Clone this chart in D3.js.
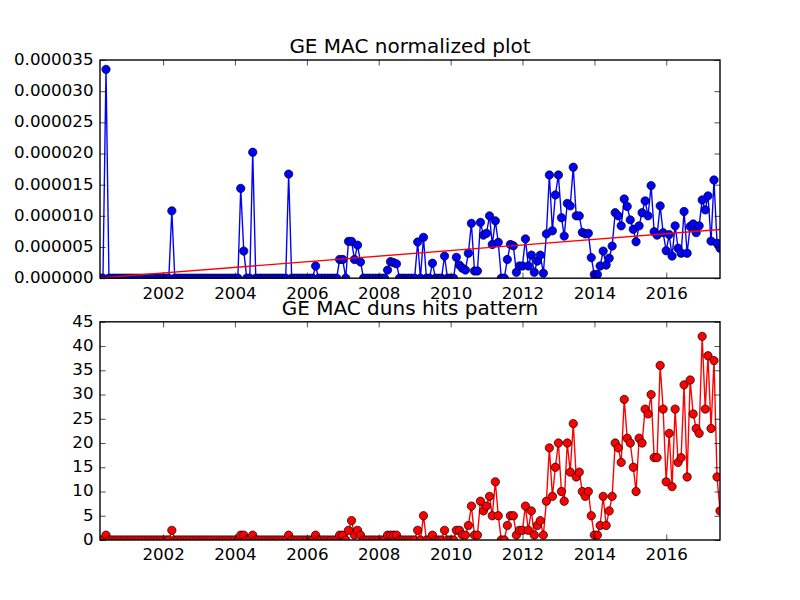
<!DOCTYPE html>
<html><head><meta charset="utf-8">
<script src="https://cdn.jsdelivr.net/npm/d3@7"></script>
<style>body{margin:0;background:#fff} svg{display:block}</style>
</head><body>
<svg id="c" width="800" height="600"></svg>
<script>
// Monthly samples (month-end), first month: March 2000
const firstYear = 2000, firstMonthIndex = 2; // 0-based month (March)

// Bottom chart: duns hits per month (208 months)
const hits = [
  0,0,1,0,0,0,0,0,0,0,
  0,0,0,0,0,0,0,0,0,0,
  0,0,0,0,2,0,0,0,0,0,
  0,0,0,0,0,0,0,0,0,0,
  0,0,0,0,0,0,0,1,1,0,
  0,1,0,0,0,0,0,0,0,0,
  0,0,0,1,0,0,0,0,0,0,
  0,0,1,0,0,0,0,0,0,0,
  1,1,0,2,4,1,2,1,0,0,
  0,0,0,0,0,0,1,1,1,1,
  0,0,0,0,0,0,2,0,5,0,
  0,1,0,0,0,2,0,0,0,2,
  2,1,1,3,7,1,1,8,6,7,
  9,5,12,5,0,0,3,5,5,1,
  2,2,7,2,6,1,3,4,1,8,
  19,9,15,20,10,8,20,14,24,13,
  14,10,9,10,5,1,1,3,9,3,
  6,9,20,19,16,29,21,20,15,10,
  21,20,27,26,30,17,17,36,27,12,
  22,11,27,16,17,32,13,33,26,23,
  22,42,27,38,23,37,13,6
];

// Top chart: normalized values per month
const normalized = [
  0,0,33.5e-6,0,0,0,0,0,0,0,
  0,0,0,0,0,0,0,0,0,0,
  0,0,0,0,10.8e-6,0,0,0,0,0,
  0,0,0,0,0,0,0,0,0,0,
  0,0,0,0,0,0,0,14.4e-6,4.35e-6,0,
  0,20.2e-6,0,0,0,0,0,0,0,0,
  0,0,0,16.7e-6,0,0,0,0,0,0,
  0,0,1.95e-6,0,0,0,0,0,0,0,
  3.0e-6,3.0e-6,0,5.9e-6,5.9e-6,3.0e-6,5.3e-6,2.6e-6,0,0,
  0,0,0,0,0,0,1.3e-6,2.65e-6,2.5e-6,2.3e-6,
  0,0,0,0,0,0,5.8e-6,0,6.55e-6,0,
  0,2.4e-6,0,0,0,3.55e-6,0,0,0,3.35e-6,
  2.1e-6,1.6e-6,1.3e-6,4.0e-6,8.8e-6,1.15e-6,1.15e-6,8.95e-6,6.9e-6,7.2e-6,
  10.0e-6,5.4e-6,9.2e-6,5.75e-6,0,0,3.0e-6,5.4e-6,5.2e-6,0.95e-6,
  1.95e-6,1.95e-6,6.3e-6,1.95e-6,3.7e-6,0.95e-6,2.75e-6,3.7e-6,0.8e-6,7.1e-6,
  16.55e-6,7.6e-6,13.35e-6,16.55e-6,9.7e-6,6.75e-6,12.0e-6,11.6e-6,17.8e-6,10.0e-6,
  10.0e-6,7.35e-6,7.1e-6,7.2e-6,3.3e-6,0.6e-6,0.6e-6,1.95e-6,4.35e-6,2.1e-6,
  3.2e-6,5.15e-6,10.5e-6,10.0e-6,8.4e-6,12.7e-6,11.5e-6,9.35e-6,7.85e-6,5.85e-6,
  8.4e-6,10.5e-6,12.4e-6,10.0e-6,14.85e-6,7.45e-6,6.9e-6,11.6e-6,7.3e-6,4.4e-6,
  7.0e-6,3.55e-6,8.4e-6,4.8e-6,4.0e-6,10.7e-6,4.0e-6,8.3e-6,8.7e-6,7.3e-6,
  8.4e-6,12.55e-6,10.95e-6,13.2e-6,5.95e-6,15.75e-6,5.6e-6,4.8e-6
];

// Linear trend line on the top chart: value at first and last month
const trendValues = [0.05e-6, 7.8e-6];

const xTickYears = [2002, 2004, 2006, 2008, 2010, 2012, 2014, 2016];
const topYTicks = [0, 0.000005, 0.00001, 0.000015, 0.00002, 0.000025, 0.00003, 0.000035];
const bottomYTicks = [0, 5, 10, 15, 20, 25, 30, 35, 40, 45];
const titles = ["GE MAC normalized plot", "GE MAC duns hits pattern"];

// month-end dates
const dates = hits.map((_, i) => new Date(firstYear, firstMonthIndex + 1 + i, 0));

const svg = d3.select("#c");
svg.append("rect").attr("width", 800).attr("height", 600).attr("fill", "#fff");

const PT = 100 / 72;
const L = 100, R = 720;
const axH = 480 / 2.2;
const topBox = {t: 60, b: 60 + axH};
const botBox = {t: 540 - axH, b: 540};

const x = d3.scaleTime().domain([dates[0], dates[dates.length - 1]]).range([L, R]);
const yTop = d3.scaleLinear().domain([0, 0.000035]).range([topBox.b, topBox.t]);
const yBot = d3.scaleLinear().domain([0, 45]).range([botBox.b, botBox.t]);
const xTicks = xTickYears.map(y => new Date(y, 0, 1));

const FONT = "DejaVu Sans, Liberation Sans, sans-serif";

function drawPanel(id, box, y, yTicks, yFmt, series, color, title, trend) {
  const defs = svg.append("defs");
  defs.append("clipPath").attr("id", "clip" + id)
    .append("rect").attr("x", L).attr("y", box.t).attr("width", R - L).attr("height", box.b - box.t);

  const g = svg.append("g");
  const plot = g.append("g").attr("clip-path", `url(#clip${id})`);
  const pts = dates.map((d, i) => ({d, v: series[i]}));
  const line = d3.line().x(p => x(p.d)).y(p => y(p.v));
  plot.append("path").datum(pts).attr("d", line)
    .attr("fill", "none").attr("stroke", color).attr("stroke-width", PT).attr("stroke-linejoin", "round");
  plot.selectAll("circle").data(pts).join("circle")
    .attr("cx", p => x(p.d)).attr("cy", p => y(p.v)).attr("r", 3 * PT)
    .attr("fill", color).attr("stroke", "#000").attr("stroke-width", 0.5 * PT);
  if (trend) {
    const tp = [{d: dates[0], v: trend[0]}, {d: dates[dates.length - 1], v: trend[1]}];
    plot.append("path").datum(tp).attr("d", line)
      .attr("fill", "none").attr("stroke", "#ff0000").attr("stroke-width", PT);
  }

  const tl = 4 * PT, pad = 4 * PT;
  const axB = d3.axisBottom(x).tickValues(xTicks).tickFormat(d3.timeFormat("%Y"))
    .tickSizeInner(-tl).tickSizeOuter(0).tickPadding(pad);
  const axT = d3.axisTop(x).tickValues(xTicks).tickFormat("")
    .tickSizeInner(-tl).tickSizeOuter(0);
  const axLft = d3.axisLeft(y).tickValues(yTicks).tickFormat(yFmt)
    .tickSizeInner(-tl).tickSizeOuter(0).tickPadding(6.5);
  const axRt = d3.axisRight(y).tickValues(yTicks).tickFormat("")
    .tickSizeInner(-tl).tickSizeOuter(0);

  const gb = g.append("g").attr("transform", `translate(0,${box.b})`).call(axB);
  const gt = g.append("g").attr("transform", `translate(0,${box.t})`).call(axT);
  const gl = g.append("g").attr("transform", `translate(${L},0)`).call(axLft);
  const gr = g.append("g").attr("transform", `translate(${R},0)`).call(axRt);
  [gb, gt, gl, gr].forEach(a => {
    a.select(".domain").remove();
    a.selectAll(".tick line").attr("stroke", "#000").attr("stroke-width", 0.5 * PT);
    a.selectAll(".tick text").attr("fill", "#000").attr("font-family", FONT).attr("font-size", 12 * PT);
    a.attr("font-family", null).attr("font-size", null);
  });
  gb.selectAll(".tick text").attr("dy", "14.9px");
  gl.selectAll(".tick text").attr("dy", "4.4px");

  g.append("rect").attr("x", L).attr("y", box.t).attr("width", R - L).attr("height", box.b - box.t)
    .attr("fill", "none").attr("stroke", "#000").attr("stroke-width", PT);

  g.append("text").attr("x", (L + R) / 2).attr("y", box.t - 5 * PT)
    .attr("text-anchor", "middle").attr("font-family", FONT).attr("font-size", 14.4 * PT)
    .attr("fill", "#000").text(title);
}

drawPanel("top", topBox, yTop, topYTicks, d3.format(".6f"), normalized, "#0000ff", titles[0], trendValues);
drawPanel("bot", botBox, yBot, bottomYTicks, d3.format("d"), hits, "#ff0000", titles[1], null);
</script>
</body></html>
